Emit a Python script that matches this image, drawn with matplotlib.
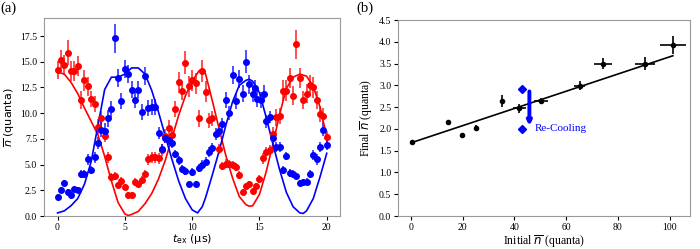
import matplotlib
matplotlib.use("Agg")
from matplotlib import pyplot as plt

# ---- panel (a): exchange of n between the two modes ----
red_t = [0.0, 0.25, 0.5, 0.75, 1.0, 1.25, 1.5, 1.75, 2.0, 2.25, 2.5, 2.75, 3.0, 3.25, 3.5, 3.75,
         4.0, 4.25, 4.5, 4.75, 5.0, 5.25, 5.5, 5.75, 6.0, 6.25, 6.5, 6.75, 7.0, 7.25, 7.5, 7.75,
         8.0, 8.25, 8.5, 8.75, 9.0, 9.25, 9.5, 9.75, 10.0, 10.25, 10.5, 10.75, 11.0, 11.25, 11.5,
         12.0, 12.25, 12.5, 12.75, 13.0, 13.25, 13.5, 13.75, 14.0, 14.25, 14.5, 14.75, 15.0, 15.25,
         15.5, 15.75, 16.0, 16.25, 16.5, 16.75, 17.0, 17.25, 17.5, 17.75, 18.0, 18.25, 18.5, 18.75,
         19.0, 19.25, 19.5, 19.75, 20.0]
red_n = [14.2, 15.2, 14.7, 15.9, 14.1, 14.1, 14.6, 11.3, 13.2, 12.6, 11.4, 10.9, 8.7, 9.5, 7.8, 5.7,
         3.8, 3.9, 3.0, 3.4, 2.8, 2.0, 2.0, 3.3, 3.1, 3.5, 4.1, 5.5, 5.7, 5.7, 5.6, 6.4,
         7.8, 8.6, 7.9, 10.4, 13.0, 12.2, 14.9, 12.6, 13.2, 12.9, 9.5, 14.1, 12.1, 9.3, 9.5,
         6.5, 4.85, 5.1, 5.05, 4.95, 4.8, 4.0, 2.3, 2.9, 3.1, 2.4, 2.9, 3.6, 5.6,
         6.2, 6.4, 8.0, 9.6, 9.7, 12.2, 12.2, 13.4, 11.7, 16.7, 13.4, 11.3, 11.9, 12.7,
         12.5, 11.3, 9.9, 9.7, 7.7]
red_err = [0.9, 0.9, 1.0, 1.2, 1.0, 1.0, 1.0, 0.9, 1.0, 0.9, 0.8, 0.8, 0.7, 0.7, 0.6, 0.5,
           0.4, 0.4, 0.3, 0.4, 0.3, 0.3, 0.3, 0.4, 0.3, 0.4, 0.4, 0.5, 0.5, 0.5, 0.5, 0.6,
           0.7, 0.7, 0.7, 0.8, 1.0, 0.9, 1.1, 1.0, 1.0, 1.0, 0.8, 1.1, 1.0, 0.7, 0.7,
           0.5, 0.4, 0.4, 0.4, 0.4, 0.4, 0.4, 0.3, 0.3, 0.3, 0.3, 0.3, 0.4, 0.5,
           0.5, 0.5, 0.7, 0.8, 0.8, 1.0, 1.0, 1.0, 0.9, 1.4, 1.0, 0.9, 0.9, 1.0,
           1.0, 0.9, 0.8, 0.8, 0.6]

blue_t = [0.0, 0.25, 0.5, 0.75, 1.0, 1.25, 1.5, 1.75, 2.0, 2.25, 2.5, 2.75, 3.0, 3.25, 3.5, 3.75,
          4.0, 4.25, 4.5, 4.75, 5.0, 5.25, 5.5, 5.75, 6.0, 6.25, 6.5, 6.75, 7.0, 7.25, 7.5, 7.75,
          8.0, 8.25, 8.5, 8.75, 9.0, 9.25, 9.5, 9.75, 10.0, 10.25, 10.5, 10.75, 11.0, 11.25, 11.5,
          11.75, 12.0, 12.25, 12.5, 12.75, 13.0, 13.25, 13.5, 13.75, 14.0, 14.25, 14.5, 14.65,
          14.85, 15.1, 15.35, 15.5, 15.75, 16.0, 16.25, 16.5, 16.75, 17.0, 17.25, 17.5, 17.75,
          18.0, 18.25, 18.5, 18.75, 19.0, 19.25, 19.5, 19.75, 20.0]
blue_n = [1.8, 2.5, 3.2, 2.3, 2.0, 2.6, 2.5, 4.1, 4.1, 5.5, 4.5, 5.7, 7.1, 8.4, 8.3, 9.5,
          10.4, 17.3, 13.4, 11.2, 14.3, 13.8, 12.3, 11.3, 12.3, 10.1, 13.6, 10.5, 10.6, 10.6, 8.1, 6.5,
          7.6, 7.4, 7.1, 6.0, 5.4, 4.6, 4.4, 3.1, 4.25, 3.1, 4.7, 5.0, 5.3, 6.2, 6.6,
          8.0, 8.3, 8.9, 11.3, 10.0, 13.7, 11.2, 13.3, 11.9, 15.0, 12.8, 11.9, 12.4,
          11.4, 11.3, 11.9, 9.2, 9.65, 7.55, 6.7, 6.7, 4.5, 5.8, 4.2, 4.1, 3.9,
          3.2, 3.3, 3.35, 4.1, 5.9, 5.5, 6.7, 8.4, 6.9]
blue_err = [0.3, 0.3, 0.3, 0.3, 0.3, 0.3, 0.3, 0.4, 0.4, 0.5, 0.4, 0.5, 0.6, 0.7, 0.7, 0.8,
            0.8, 1.4, 0.9, 0.8, 0.9, 0.9, 0.8, 0.8, 0.8, 0.8, 0.9, 0.8, 0.8, 0.8, 0.6, 0.5,
            0.5, 0.5, 0.5, 0.4, 0.4, 0.4, 0.4, 0.3, 0.4, 0.3, 0.4, 0.4, 0.4, 0.5, 0.5,
            0.6, 0.6, 0.6, 0.8, 0.7, 0.9, 0.8, 0.9, 0.8, 1.1, 0.9, 0.8, 0.8,
            0.8, 0.8, 0.8, 0.6, 0.6, 0.5, 0.5, 0.5, 0.4, 0.4, 0.4, 0.4, 0.3,
            0.3, 0.3, 0.3, 0.4, 0.5, 0.5, 0.5, 0.6, 0.5]

# model curves
red_fit_t = [0.0, 0.5, 1.0, 1.5, 2.0, 2.5, 3.0, 3.5, 4.0, 4.5, 5.0, 5.25, 5.5, 6.0, 6.5, 7.0, 7.5,
             8.0, 8.5, 9.0, 9.5, 10.0, 10.5, 10.75, 11.0, 11.5, 12.0, 12.5, 13.0, 13.5, 14.0,
             14.25, 14.5, 15.0, 15.5, 16.0, 16.5, 17.0, 17.5, 18.0, 18.5, 19.0, 19.5, 20.0]
red_fit_n = [14.0, 13.8, 13.0, 11.9, 10.5, 9.2, 7.9, 5.8, 3.4, 1.3, 0.2, 0.05, 0.15, 0.45, 1.2, 2.2, 3.6,
             5.4, 7.6, 9.8, 11.7, 13.1, 14.1, 14.3, 13.8, 11.2, 8.5, 5.9, 3.7, 1.9, 1.1,
             0.95, 1.0, 2.1, 4.3, 7.0, 9.9, 12.4, 13.5, 13.8, 13.6, 12.6, 10.6, 7.7]
blue_fit_t = [0.0, 0.5, 1.0, 1.5, 2.0, 2.5, 3.0, 3.5, 4.0, 4.5, 5.0, 5.5, 6.0, 6.5, 7.0, 7.5, 8.0,
              8.5, 9.0, 9.5, 10.0, 10.4, 10.75, 11.0, 11.5, 12.0, 12.5, 13.0, 13.5, 14.0, 14.25,
              14.5, 15.0, 15.5, 16.0, 16.5, 17.0, 17.5, 18.0, 18.25, 18.5, 19.0, 19.5, 20.0]
blue_fit_n = [0.3, 0.5, 1.0, 1.7, 3.1, 5.3, 8.8, 12.3, 13.5, 13.5, 13.8, 14.4, 14.4, 13.8, 12.2, 10.1, 7.8,
              5.5, 3.4, 1.7, 0.6, 0.3, 0.9, 1.8, 4.0, 6.3, 8.8, 11.1, 12.7, 13.2, 13.3,
              13.1, 12.0, 9.6, 7.0, 4.5, 2.3, 0.9, 0.3, 0.25, 0.5, 1.7, 3.8, 6.1]

# ---- panel (b): final vs initial n ----
init_n = [0.5, 14.5, 19.9, 25.2, 35.1, 41.9, 50.3, 65.2, 74.2, 90.6, 101.3]
init_err = [0.2, 0.3, 0.3, 0.5, 0.5, 2.5, 2.6, 2.1, 3.4, 3.9, 5.0]
final_n = [1.69, 2.15, 1.86, 2.03, 2.65, 2.47, 2.65, 2.99, 3.50, 3.50, 3.93]
final_err = [0.02, 0.06, 0.03, 0.05, 0.14, 0.10, 0.07, 0.10, 0.12, 0.15, 0.20]
line_x = [0.5, 101.3]
line_y = [1.69, 3.68]
recool_x = [42.8, 42.8]
recool_y = [2.91, 2.00]

plt.rcParams['font.family'] = 'Liberation Serif'
plt.rcParams['mathtext.fontset'] = 'dejavusans'
frame_col = '0.6'

fig = plt.figure(figsize=(7, 2.49), dpi=100)

ax1 = fig.add_axes([0.063, 0.1325, 0.423, 0.795])
ax1.errorbar(red_t, red_n, yerr=red_err, fmt='o', color='red', ms=4.0, elinewidth=1.3,
             ecolor=(1, 0, 0, 0.75), capsize=0)
ax1.errorbar(blue_t, blue_n, yerr=blue_err, fmt='o', color='blue', ms=4.0, elinewidth=1.3,
             ecolor=(0, 0, 1, 0.75), capsize=0)
ax1.plot(red_fit_t, red_fit_n, color='red', lw=1.2)
ax1.plot(blue_fit_t, blue_fit_n, color='blue', lw=1.2)
ax1.set_xlim(-1, 21)
ax1.set_ylim(0, 19.25)
ax1.set_xticks([0, 5, 10, 15, 20])
ax1.set_yticks([0, 2.5, 5, 7.5, 10, 12.5, 15, 17.5])
ax1.set_yticklabels(['0.0', '2.5', '5.0', '7.5', '10.0', '12.5', '15.0', '17.5'])
ax1.set_xlabel(r'$t_{\rm ex}$ (μs)', family='DejaVu Sans', fontsize=8, labelpad=0)
ax1.set_ylabel(r'$\overline{n}$ (quanta)', family='DejaVu Sans', fontsize=8, labelpad=2)
ax1.tick_params(labelsize=7, length=3, pad=2)

ax2 = fig.add_axes([0.569, 0.1325, 0.417, 0.787])
ax2.plot(line_x, line_y, color='black', lw=1.2)
ax2.errorbar(init_n, final_n, xerr=init_err, yerr=final_err, fmt='o', color='black', ms=3.0,
             elinewidth=1.2, capsize=0)
ax2.plot(recool_x, recool_y, 'D', color='blue', ms=4.0, ls='none')
ax2.annotate('', xy=(45.8, 2.07), xytext=(45.8, 2.86),
             arrowprops=dict(arrowstyle='-|>', color='blue', lw=2.8, mutation_scale=6,
                             shrinkA=0, shrinkB=0))
ax2.text(47.7, 2.0, 'Re-Cooling', color='blue', fontsize=8, va='center', ha='left')
ax2.set_xlim(-4.9, 108)
ax2.set_ylim(0, 4.5)
ax2.set_xticks([0, 20, 40, 60, 80, 100])
ax2.set_yticks([0, 0.5, 1, 1.5, 2, 2.5, 3, 3.5, 4, 4.5])
ax2.set_yticklabels(['0.0', '0.5', '1.0', '1.5', '2.0', '2.5', '3.0', '3.5', '4.0', '4.5'])
ax2.set_xlabel(r'Initial $\overline{n}$ (quanta)', fontsize=8.5, labelpad=1)
ax2.set_ylabel(r'Final $\overline{n}$ (quanta)', fontsize=8.5, labelpad=3)
ax2.tick_params(labelsize=7, length=3, pad=2)

for ax in (ax1, ax2):
    for sp in ax.spines.values():
        sp.set_color(frame_col)

fig.text(0.0, 0.965, '(a)', fontsize=10.5, va='center', ha='left')
fig.text(0.509, 0.965, '(b)', fontsize=10.5, va='center', ha='left')

fig.savefig('out.png', dpi=100)
